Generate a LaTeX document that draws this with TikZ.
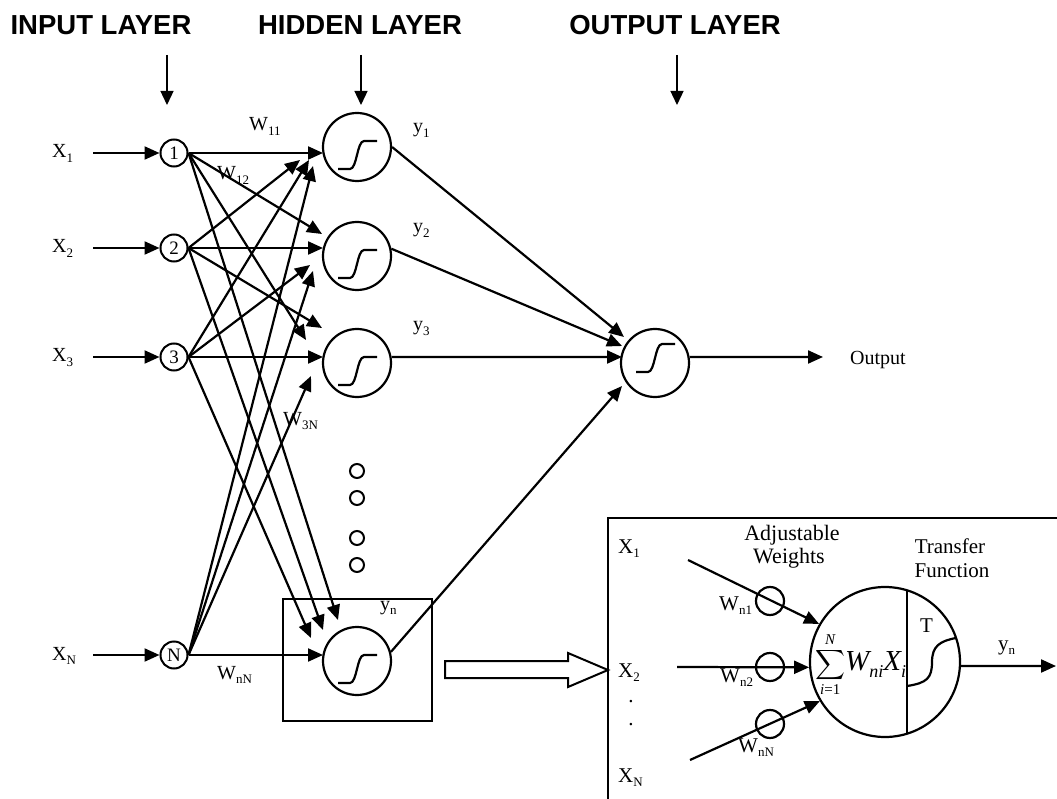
\documentclass[tikz,border=0pt]{standalone}
\usepackage{exscale}
\usepackage{fontspec}
\setmainfont{Liberation Serif}
\newfontfamily\hdrfont{Liberation Sans}
\usetikzlibrary{arrows.meta}
\newcommand\dn[1]{\raisebox{-4.5pt}{\fontsize{13}{13}\selectfont #1}}
\newcommand\dnbig[1]{\raisebox{-7pt}{\fontsize{18}{18}\selectfont\itshape #1}}
\newcommand\limtxt[1]{\mbox{\fontsize{15}{15}\selectfont #1}}
\newcommand\sigmoid[2]{\draw[sig,shift={(#1)}] (-19,22+#2) -- (-7,22+#2) .. controls (0,22+#2) and (0,-6+#2) .. (7,-6+#2) -- (20,-6+#2);}
\begin{document}
\begin{tikzpicture}[x=1pt,y=-1pt,
  every node/.style={inner sep=0pt, font=\fontsize{20}{24}\selectfont},
  lbl/.style={anchor=base west},
  arr/.style={line width=2.2pt, -{Triangle[length=15pt,width=13pt]}},
  thinarr/.style={line width=1.3pt, -{Triangle[length=14pt,width=13pt]}},
  innode/.style={circle, draw, line width=2pt, minimum size=27pt, font=\fontsize{19}{20}\selectfont},
  hnode/.style={circle, draw, line width=2.2pt, minimum size=68pt},
  dotnode/.style={circle, draw, line width=2pt, minimum size=14pt},
  wnode/.style={circle, draw, line width=2.2pt, minimum size=28pt},
  sig/.style={line width=2.2pt},
  hdr/.style={font=\hdrfont\bfseries\fontsize{27.5}{30}\selectfont},
  inlbl/.style={font=\fontsize{21}{24}\selectfont},
]
\useasboundingbox (0,0) rectangle (1057,799);

% headers
\node[hdr] (hin) at (101,25) {INPUT LAYER};
\node[hdr] (hhid) at (360,25) {HIDDEN LAYER};
\node[hdr] (hout) at (675,25) {OUTPUT LAYER};
\coordinate (la1) at (167,55); \coordinate (lb1) at (167,105);
\coordinate (la2) at (361,55); \coordinate (lb2) at (361,105);
\coordinate (la3) at (677,55); \coordinate (lb3) at (677,105);
\draw[thinarr] (la1) -- (lb1);
\draw[thinarr] (la2) -- (lb2);
\draw[thinarr] (la3) -- (lb3);

% input nodes
\node[innode] (in1) at (174,153) {1};
\node[innode] (in2) at (174,248) {2};
\node[innode] (in3) at (174,357) {3};
\node[innode] (inN) at (174,655) {N};

% input labels
\node[lbl] (X1) at (52,158) {X\dn{1}};
\node[lbl] (X2) at (52,253) {X\dn{2}};
\node[lbl] (X3) at (52,362) {X\dn{3}};
\node[lbl] (XN) at (52,660) {X\dn{N}};
\coordinate (s1) at (93,153);
\coordinate (s2) at (93,248);
\coordinate (s3) at (93,357);
\coordinate (sN) at (93,655);
\draw[arr] (s1) -- (in1);
\draw[arr] (s2) -- (in2);
\draw[arr] (s3) -- (in3);
\draw[arr] (sN) -- (inN);

% hidden nodes
\node[hnode] (h1) at (357,147) {};
\node[hnode] (h2) at (357,256) {};
\node[hnode] (h3) at (357,363) {};
\node[hnode] (hn) at (357,661) {};
\sigmoid{h1}{0}
\sigmoid{h2}{0}
\sigmoid{h3}{0}
\sigmoid{hn}{0}
\node[draw, line width=2.2pt, minimum width=149pt, minimum height=122pt] (hbox) at (357.5,660) {};

\foreach \yy in {471,498,538,565} \node[dotnode] at (357,\yy) {};

% arrow tips
\coordinate (t11) at (323,153);
\coordinate (t21) at (300,160);
\coordinate (t31) at (309,160);
\coordinate (tN1) at (313,166);
\coordinate (t12) at (322,234);
\coordinate (t22) at (323,248);
\coordinate (t32) at (310,265);
\coordinate (tN2) at (313,271);
\coordinate (t13) at (306,340);
\coordinate (t23) at (322,328);
\coordinate (t33) at (323,357);
\coordinate (tN3) at (311,376);
\coordinate (t1n) at (338,620);
\coordinate (t2n) at (323,630);
\coordinate (t3n) at (311,638);
\coordinate (tNn) at (323,655);
\foreach \i in {1,2,3,N}{
  \foreach \j in {1,2,3,n}{
    \draw[arr] (in\i.east) -- (t\i\j);
  }
}

% weight labels
\node[lbl] (w11) at (249,131) {W\dn{11}};
\node[lbl] (w12) at (217,180) {W\dn{12}};
\node[lbl] (w3n) at (283,425) {W\dn{3N}};
\node[lbl] (wnn) at (217,679) {W\dn{nN}};

% y labels
\node[lbl] (y1) at (413,133) {y\dn{1}};
\node[lbl] (y2) at (413,233) {y\dn{2}};
\node[lbl] (y3) at (413,331) {y\dn{3}};
\node[lbl] (yn) at (380,610) {y\dn{n}};

% output node
\node[hnode] (out) at (655,363) {};
\sigmoid{out}{-13}
\coordinate (o1) at (624,337);
\coordinate (o2) at (622,346);
\coordinate (o3) at (622,357);
\coordinate (on) at (622,386);
\draw[arr] (h1.east) -- (o1);
\draw[arr] (h2.12) -- (o2);
\draw[arr] (h3.10) -- (o3);
\draw[arr] (hn.15) -- (on);
\coordinate (oend) at (823,357);
\draw[arr] (out.10) -- (oend);
\node[lbl] (outlbl) at (850,364) {Output};

% hollow arrow
\draw[line width=2pt, line join=miter] (445,661) -- (568,661) -- (568,653) -- (608,670) -- (568,687) -- (568,678) -- (445,678) -- cycle;

% inset frame
\draw[line width=2.2pt] (608,518) rectangle (1075,815);
\node[lbl, inlbl] (iX1) at (618,553) {X\dn{1}};
\node[lbl, inlbl] (iX2) at (618,677) {X\dn{2}};
\node[anchor=base, inlbl] (idot1) at (631,702) {.};
\node[anchor=base, inlbl] (idot2) at (631,725) {.};
\node[lbl, inlbl] (iXN) at (618,782) {X\dn{N}};

\node[circle, draw, line width=2.2pt, minimum size=150pt] (neuron) at (885,662) {};
\draw[line width=2.2pt] (907,590.3) -- (907,733.7);
\draw[sig] (907,686) .. controls (927,683) and (932,678) .. (932,662) .. controls (932,646) and (940,641) .. (956,638);
\node[lbl, inlbl] (T) at (920,632) {T};

\coordinate (a1) at (688,560);
\coordinate (a2) at (677,667);
\coordinate (a3) at (690,760);
\draw[arr] (a1) -- (neuron.150);
\draw[arr] (a2) -- (neuron.184);
\draw[arr] (a3) -- (neuron.211);
\node[wnode] (wc1) at (770,601) {};
\node[wnode] (wc2) at (770,667) {};
\node[wnode] (wc3) at (770,724) {};
\node[lbl, inlbl] (wn1) at (719,610) {W\dn{n1}};
\node[lbl, inlbl] (wn2) at (720,682) {W\dn{n2}};
\node[lbl, inlbl] (wnN) at (738,752) {W\dn{nN}};

\node[lbl] (sumf) at (815,670) {{\fontsize{21}{24}\selectfont$\displaystyle\sum_{\limtxt{\itshape i\upshape =1}}^{\limtxt{\itshape N}}$}{\fontsize{29}{30}\selectfont\itshape W\dnbig{ni}X\dnbig{i}}};

\coordinate (yend) at (1056,666);
\draw[arr] (neuron.-3) -- (yend);
\node[lbl, inlbl] (iyn) at (998,650) {y\dn{n}};

\node[anchor=base, font=\fontsize{22}{24}\selectfont] (adj) at (792,540) {Adjustable};
\node[anchor=base, font=\fontsize{22}{24}\selectfont] (wts) at (789,563) {Weights};
\node[anchor=base, font=\fontsize{21}{24}\selectfont] (trf) at (950,553) {Transfer};
\node[anchor=base, font=\fontsize{21}{24}\selectfont] (fun) at (952,577) {Function};
\end{tikzpicture}
\end{document}
